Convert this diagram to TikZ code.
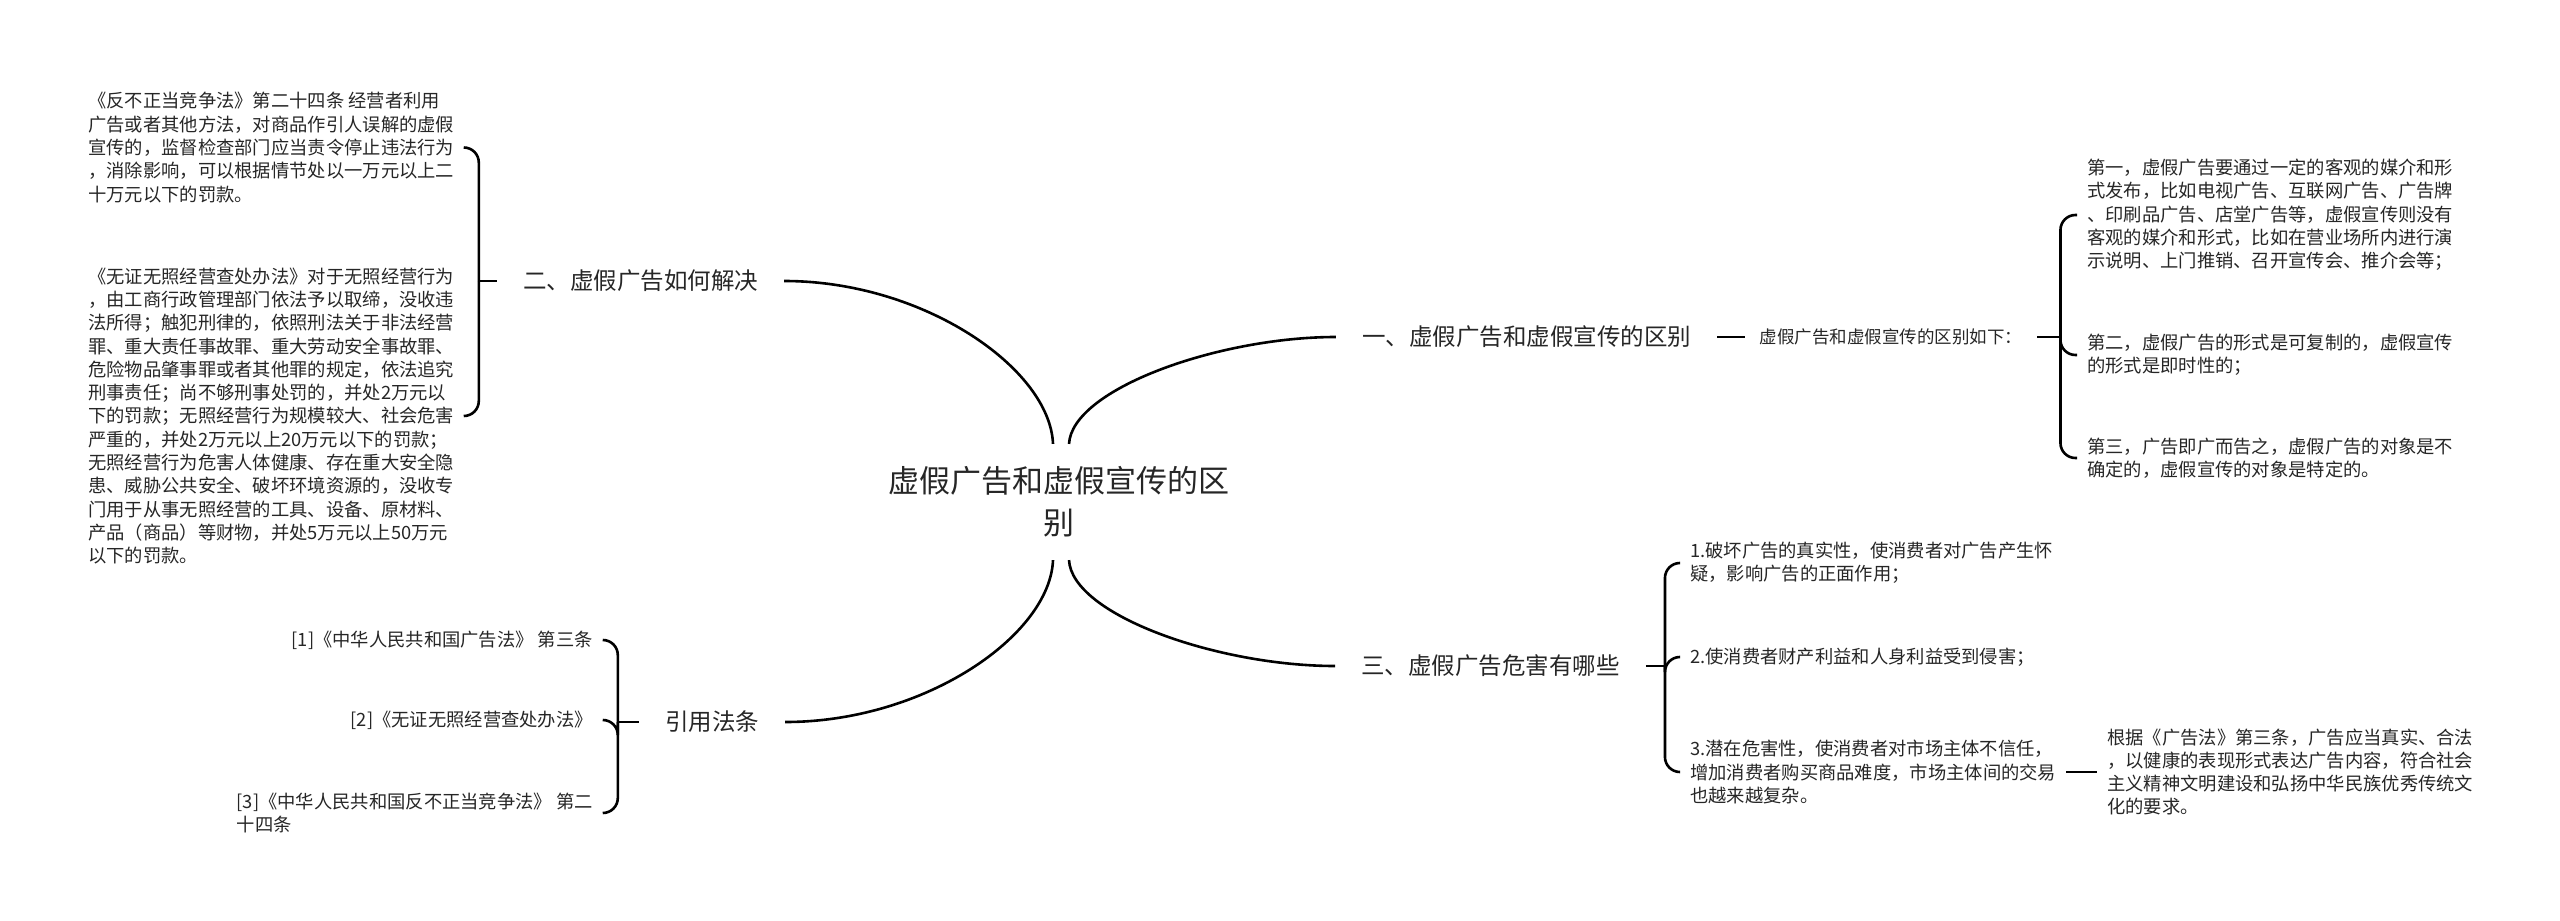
\documentclass[tikz,border=0pt]{standalone}
\usepackage{fontspec}
\setmainfont{Noto Sans CJK SC}
\usetikzlibrary{calc}
\definecolor{txt}{HTML}{262626}
\begin{document}
\begin{tikzpicture}[x=1pt,y=-1pt,
  conn/.style={line width=2.6pt, black},
  brace/.style={conn, rounded corners=15pt},
  rootnode/.style={font=\fontsize{31}{42}\selectfont, align=center, inner xsep=0pt, inner ysep=22.5pt, text=txt},
  branch/.style={font=\fontsize{23.5}{28}\selectfont, inner xsep=26pt, inner ysep=4pt, text=txt},
  para/.style={font=\fontsize{18.3}{23.3}\selectfont, align=left, inner xsep=10pt, inner ysep=2pt, text=txt},
  small/.style={font=\fontsize{17.5}{21}\selectfont, inner xsep=15pt, inner ysep=2pt, text=txt},
]
\useasboundingbox (0,0) rectangle (2560,921);

% root
\node[rootnode] (root) at (1059,502) {虚假广告和虚假宣传的区\\别};

% branches
\node[branch] (b2) at (640.5,281) {二、虚假广告如何解决};
\node[branch] (b1) at (1526.5,337) {一、虚假广告和虚假宣传的区别};
\node[branch] (b3) at (1490.5,666) {三、虚假广告危害有哪些};
\node[branch] (bc) at (712,722) {引用法条};

% left blocks
\node[para, anchor=west] (L1) at (78,147.5) {《反不正当竞争法》第二十四条 经营者利用\\
广告或者其他方法，对商品作引人误解的虚假\\
宣传的，监督检查部门应当责令停止违法行为\\
，消除影响，可以根据情节处以一万元以上二\\
十万元以下的罚款。};
\node[para, anchor=west] (L2) at (78,416) {《无证无照经营查处办法》对于无照经营行为\\
，由工商行政管理部门依法予以取缔，没收违\\
法所得；触犯刑律的，依照刑法关于非法经营\\
罪、重大责任事故罪、重大劳动安全事故罪、\\
危险物品肇事罪或者其他罪的规定，依法追究\\
刑事责任；尚不够刑事处罚的，并处2万元以\\
下的罚款；无照经营行为规模较大、社会危害\\
严重的，并处2万元以上20万元以下的罚款；\\
无照经营行为危害人体健康、存在重大安全隐\\
患、威胁公共安全、破坏环境资源的，没收专\\
门用于从事无照经营的工具、设备、原材料、\\
产品（商品）等财物，并处5万元以上50万元\\
以下的罚款。};

% citations
\node[para, anchor=east] (C1) at (603,640) {[1]《中华人民共和国广告法》 第三条};
\node[para, anchor=east] (C2) at (603,720) {[2]《无证无照经营查处办法》};
\node[para, anchor=east] (C3) at (603,813) {[3]《中华人民共和国反不正当竞争法》 第二\\
十四条};

% right of branch 1
\node[small] (sm) at (1891,337) {虚假广告和虚假宣传的区别如下：};
\node[para, anchor=west] (R1) at (2077,215) {第一，虚假广告要通过一定的客观的媒介和形\\
式发布，比如电视广告、互联网广告、广告牌\\
、印刷品广告、店堂广告等，虚假宣传则没有\\
客观的媒介和形式，比如在营业场所内进行演\\
示说明、上门推销、召开宣传会、推介会等；};
\node[para, anchor=west] (R2) at (2077,355) {第二，虚假广告的形式是可复制的，虚假宣传\\
的形式是即时性的；};
\node[para, anchor=west] (R3) at (2077,458) {第三，广告即广而告之，虚假广告的对象是不\\
确定的，虚假宣传的对象是特定的。};

% right of branch 3
\node[para, anchor=west] (H1) at (1680,563) {1.破坏广告的真实性，使消费者对广告产生怀\\
疑，影响广告的正面作用；};
\node[para, anchor=west] (H2) at (1680,657) {2.使消费者财产利益和人身利益受到侵害；};
\node[para, anchor=west] (H3) at (1680,772) {3.潜在危害性，使消费者对市场主体不信任，\\
增加消费者购买商品难度，市场主体间的交易\\
也越来越复杂。};
\node[para, anchor=west] (leaf) at (2097,772) {根据《广告法》第三条，广告应当真实、合法\\
，以健康的表现形式表达广告内容，符合社会\\
主义精神文明建设和弘扬中华民族优秀传统文\\
化的要求。};

% root curves
\draw[conn] ([xshift=-6pt]root.north) .. controls +(-3,-75) and +(140,0) .. (b2.east);
\draw[conn] ([xshift=10pt]root.north) .. controls +(3,-55) and +(-117,0) .. (b1.west);
\draw[conn] ([xshift=10pt]root.south) .. controls +(3,55) and +(-117,0) .. (b3.west);
\draw[conn] ([xshift=-6pt]root.south) .. controls +(-3,75) and +(140,0) .. (bc.east);

% branch 2 brace
\draw[conn] (b2.west) -- ++(-18,0) coordinate (b2j);
\draw[brace] (b2j) |- (L1.east);
\draw[brace] (b2j) |- (L2.east);

% citations brace
\draw[conn] (bc.west) -- ++(-21,0) coordinate (bcj);
\draw[brace] (bcj) |- (C1.east);
\draw[brace] (bcj) |- (C2.east);
\draw[brace] (bcj) |- (C3.east);

% branch 1
\draw[conn] (b1.east) -- (sm.west);
\draw[conn] (sm.east) -- ++(23,0) coordinate (smj);
\draw[brace] (smj) |- (R1.west);
\draw[brace] (smj) |- (R2.west);
\draw[brace] (smj) |- (R3.west);

% branch 3
\draw[conn] (b3.east) -- ++(19,0) coordinate (b3j);
\draw[brace] (b3j) |- (H1.west);
\draw[brace] (b3j) |- (H2.west);
\draw[brace] (b3j) |- (H3.west);
\draw[conn] (H3.east) -- (leaf.west);
\end{tikzpicture}
\end{document}
